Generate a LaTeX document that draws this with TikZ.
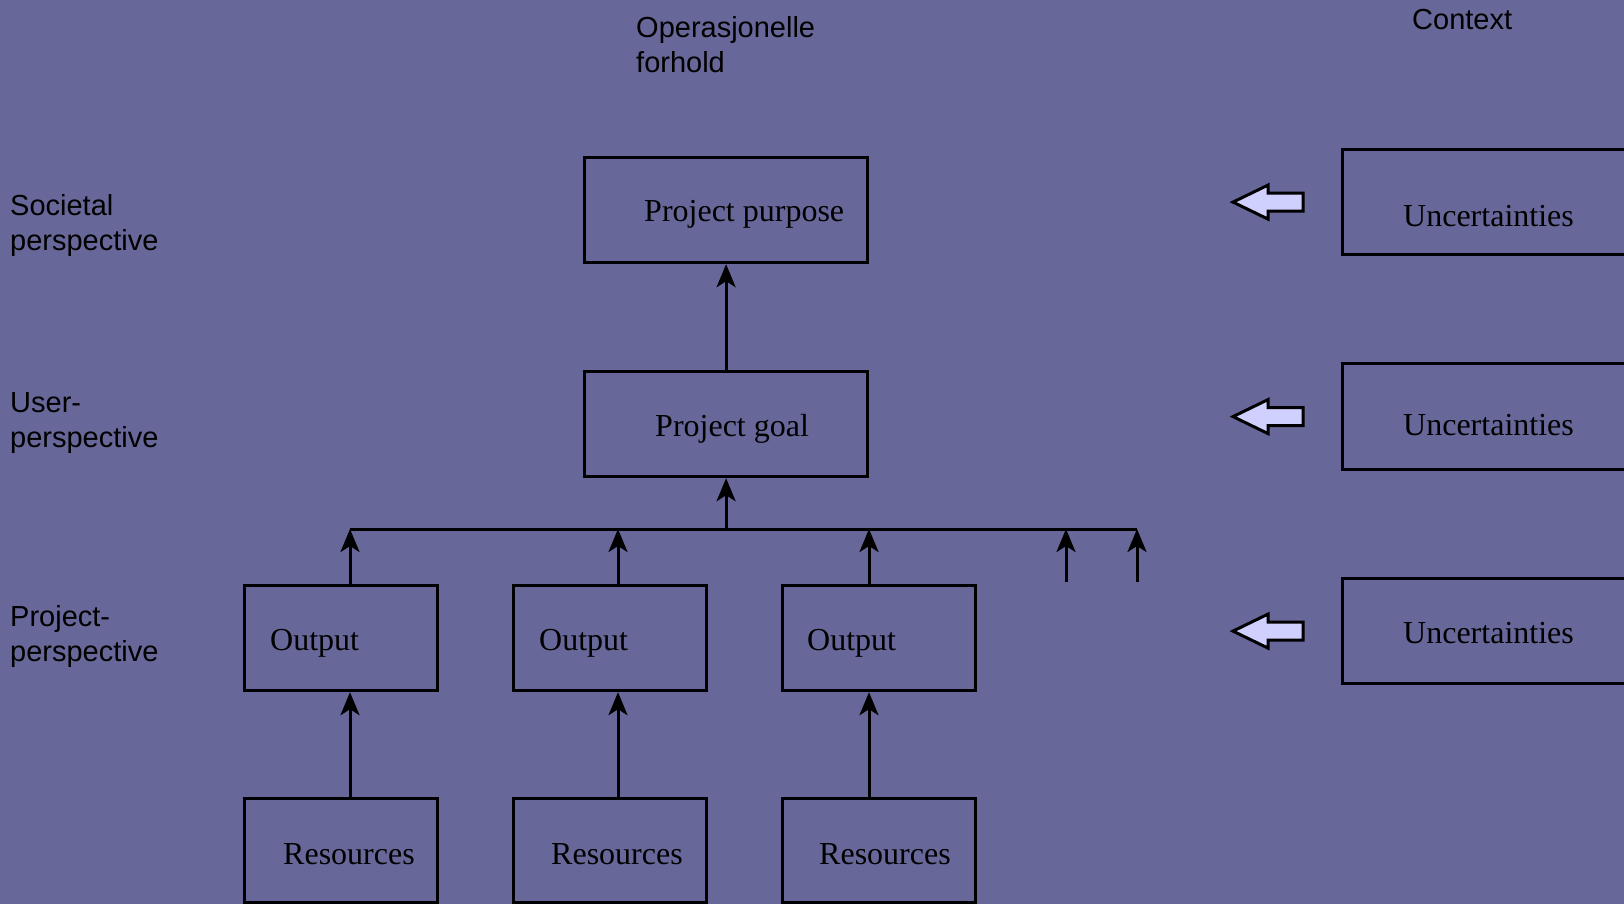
\documentclass[tikz,border=0pt]{standalone}
\usepackage{fontspec}
\setmainfont{Liberation Serif}
\newfontfamily\lsans{Liberation Sans}
\usetikzlibrary{arrows.meta,calc}
\definecolor{bgblue}{RGB}{103,103,153}
\definecolor{hollowfill}{RGB}{208,208,255}
\begin{document}
\begin{tikzpicture}[x=1pt,y=-1pt,
  box/.style={draw=black,line width=3.2pt,inner sep=0pt,anchor=north west},
  serif/.style={font=\fontsize{32}{36}\selectfont,anchor=base west,inner sep=0pt},
  lab/.style={font=\lsans\fontsize{29}{35}\selectfont,anchor=base west,inner sep=0pt,align=left},
  conn/.style={line width=3pt,-{Stealth[length=23pt,width=19pt,inset=6pt]}},
  busline/.style={line width=3pt},
  hollow/.style={line width=3pt,fill=hollowfill,line join=miter},
]
\fill[bgblue] (0,0) rectangle (1624,904);
\useasboundingbox (0,0) rectangle (1624,904);

% labels (base = baseline of the last line)
\node[lab] (ctx) at (1412,30) {Context};
\node[lab] (oper) at (636,73) {Operasjonelle\\forhold};
\node[lab] (soc) at (10,250) {Societal\\perspective};
\node[lab] (usr) at (10,447) {User-\\perspective};
\node[lab] (prj) at (10,661) {Project-\\perspective};

% boxes
\node[box,minimum width=283pt,minimum height=105pt] (purpose) at (583,156) {};
\node[box,minimum width=283pt,minimum height=105pt] (goal) at (583,370) {};
\node[serif] (purposet) at (644,222) {Project purpose};
\node[serif] (goalt) at (655,436) {Project goal};

\node[box,minimum width=193pt,minimum height=105pt] (out1) at (243,584) {};
\node[box,minimum width=193pt,minimum height=105pt] (out2) at (512,584) {};
\node[box,minimum width=193pt,minimum height=105pt] (out3) at (781,584) {};
\node[serif] (out1t) at (270,650) {Output};
\node[serif] (out2t) at (539,650) {Output};
\node[serif] (out3t) at (807,650) {Output};

\node[box,minimum width=193pt,minimum height=104pt] (res1) at (243,797) {};
\node[box,minimum width=193pt,minimum height=104pt] (res2) at (512,797) {};
\node[box,minimum width=193pt,minimum height=104pt] (res3) at (781,797) {};
\node[serif] (res1t) at (283,864) {Resources};
\node[serif] (res2t) at (551,864) {Resources};
\node[serif] (res3t) at (819,864) {Resources};

\node[box,minimum width=300pt,minimum height=105pt] (unc1) at (1341,148) {};
\node[box,minimum width=300pt,minimum height=106pt] (unc2) at (1341,362) {};
\node[box,minimum width=300pt,minimum height=105pt] (unc3) at (1341,577) {};
\node[serif] (unc1t) at (1403,226) {Uncertainties};
\node[serif] (unc2t) at (1403,435) {Uncertainties};
\node[serif] (unc3t) at (1403,643) {Uncertainties};

% bus
\coordinate (busL) at (350,529);
\coordinate (busR) at (1137,529);
\coordinate (bus1) at (350,529);
\coordinate (bus2) at (618,529);
\coordinate (bus3) at (869,529);
\coordinate (free1) at (1066,582);
\coordinate (free2) at (1137,582);

\draw[conn] (goal.north) -- (purpose.south);
\draw[busline] (busL) -- (busR);
\draw[conn] (goal.south |- busL) -- (goal.south);
\draw[conn] (bus1 |- out1.north) -- (bus1);
\draw[conn] (bus2 |- out2.north) -- (bus2);
\draw[conn] (bus3 |- out3.north) -- (bus3);
\draw[conn] (free1) -- (free1 |- busL);
\draw[conn] (free2) -- (free2 |- busR);

\draw[conn] (bus1 |- res1.north) -- (bus1 |- out1.south);
\draw[conn] (bus2 |- res2.north) -- (bus2 |- out2.south);
\draw[conn] (bus3 |- res3.north) -- (bus3 |- out3.south);

% hollow arrows
\foreach \u in {unc1,unc2,unc3}{
  \draw[hollow] ($(\u.west)+(-38,-9)$) -- ++(-35,0) -- ++(0,-8)
    -- ($(\u.west)+(-108,0)$) -- ($(\u.west)+(-73,17)$) -- ++(0,-8)
    -- ($(\u.west)+(-38,9)$) -- cycle;
}
\end{tikzpicture}
\end{document}
